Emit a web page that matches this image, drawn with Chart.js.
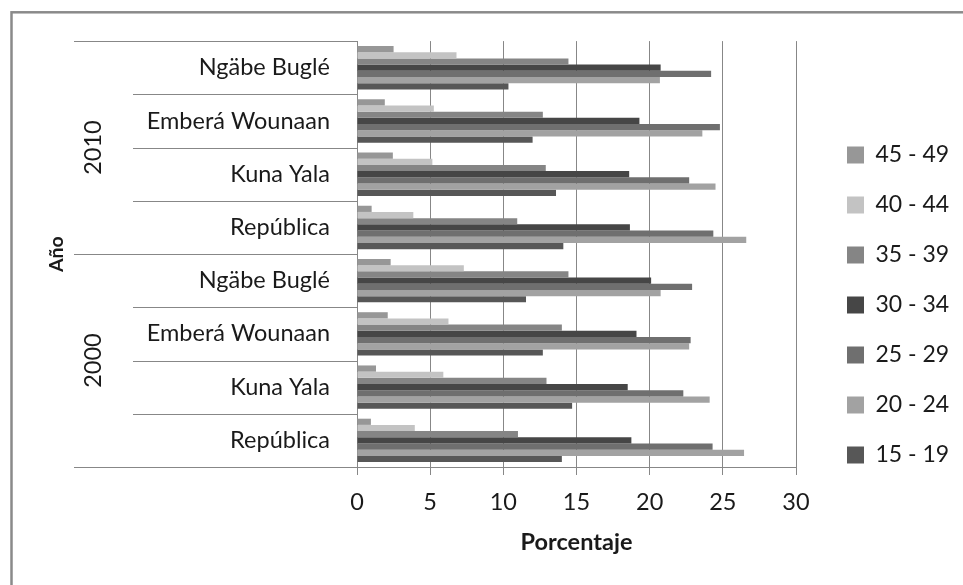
<!DOCTYPE html>
<html>
<head>
<meta charset="utf-8">
<script src="https://cdn.jsdelivr.net/npm/chart.js@4/dist/chart.umd.min.js"></script>
<style>
  html, body { margin: 0; padding: 0; background: #fff; }
</style>
</head>
<body>
<canvas id="grafico" width="963" height="585"></canvas>
<script>
// Datos (orden de Excel: de abajo hacia arriba)
const years = ["2000", "2010"];
const regions = ["República", "Kuna Yala", "Emberá Wounaan", "Ngäbe Buglé"];
const ageGroups = ["15 - 19", "20 - 24", "25 - 29", "30 - 34", "35 - 39", "40 - 44", "45 - 49"];

// valores: 2000 (Rep, Kuna, Emberá, Ngäbe), 2010 (Rep, Kuna, Emberá, Ngäbe)
const v15_19 = [14.0, 14.7, 12.7, 11.55, 14.1, 13.6, 12.0, 10.35];
const v20_24 = [26.45, 24.1, 22.7, 20.75, 26.6, 24.5, 23.6, 20.7];
const v25_29 = [24.3, 22.3, 22.8, 22.9, 24.35, 22.7, 24.8, 24.2];
const v30_34 = [18.75, 18.5, 19.1, 20.1, 18.65, 18.6, 19.3, 20.75];
const v35_39 = [11.0, 12.95, 14.0, 14.45, 10.95, 12.9, 12.7, 14.45];
const v40_44 = [3.95, 5.9, 6.25, 7.3, 3.85, 5.15, 5.25, 6.8];
const v45_49 = [0.95, 1.3, 2.1, 2.3, 1.0, 2.45, 1.9, 2.5];

const xTicks = [0, 5, 10, 15, 20, 25, 30];

const seriesValues = [v15_19, v20_24, v25_29, v30_34, v35_39, v40_44, v45_49];
const colores = ["#575757", "#a2a2a2", "#6f6f6f", "#464646", "#858585", "#c3c3c3", "#979797"];

const fuente = "Lato, 'Open Sans', sans-serif";
const texto = "#1a1a1a";
const gris = "#878787";

// categorías de arriba hacia abajo
const labels = [];
years.forEach(y => regions.forEach(r => labels.push(r)));
labels.reverse();

// 45 - 49 primero (arriba en cada grupo y en la leyenda)
const datasets = ageGroups.map((g, i) => ({
  label: g,
  data: seriesValues[i].slice().reverse(),
  backgroundColor: colores[i],
  borderWidth: 0,
  yAxisID: "y",
})).reverse();

// Líneas del eje de categorías, años y marco
const ejeMultinivel = {
  id: "ejeMultinivel",
  afterDraw(chart) {
    const ctx = chart.ctx;
    const y = chart.scales.y;
    const n = labels.length;
    const paso = y.getPixelForValue(1) - y.getPixelForValue(0);
    const bordes = [];
    for (let k = 0; k <= n; k++) bordes.push(y.getPixelForValue(k) - paso / 2);

    ctx.save();
    ctx.strokeStyle = gris;
    ctx.lineWidth = 1;
    const porAnio = regions.length;
    bordes.forEach((py, k) => {
      const xIni = (k % porAnio === 0) ? 74 : 133;
      const yy = Math.round(py) + 0.5;
      ctx.beginPath();
      ctx.moveTo(xIni, yy);
      ctx.lineTo(y.right, yy);
      ctx.stroke();
    });

    // etiquetas de año (giradas)
    ctx.fillStyle = texto;
    ctx.font = "23.5px " + fuente;
    ctx.textAlign = "center";
    ctx.textBaseline = "middle";
    const aniosArriba = years.slice().reverse();
    aniosArriba.forEach((anio, j) => {
      const yc = (bordes[j * porAnio] + bordes[(j + 1) * porAnio]) / 2;
      ctx.save();
      ctx.translate(93, yc);
      ctx.rotate(-Math.PI / 2);
      ctx.fillText(anio, 0, 0);
      ctx.restore();
    });

    // marco del gráfico
    ctx.strokeStyle = "#8a8a8a";
    ctx.lineWidth = 2.5;
    ctx.strokeRect(11.5, 12.3, 980, 600);
    ctx.restore();
  },
};

new Chart(document.getElementById("grafico"), {
  type: "bar",
  data: { labels: labels, datasets: datasets },
  options: {
    responsive: false,
    animation: false,
    indexAxis: "y",
    datasets: { bar: { categoryPercentage: 0.815, barPercentage: 1.0 } },
    layout: { padding: { left: 0, top: 41, right: 13, bottom: 16 } },
    scales: {
      x: {
        type: "linear",
        min: 0,
        max: 30,
        afterBuildTicks: s => { s.ticks = xTicks.map(v => ({ value: v })); },
        afterFit: s => { s.height = 102; },
        grid: { color: gris, lineWidth: 1, drawTicks: true, tickLength: 8, tickColor: gris },
        border: { display: true, color: gris, width: 1 },
        ticks: { color: texto, font: { family: fuente, size: 23.5 }, padding: 13 },
        title: {
          display: true,
          text: "Porcentaje",
          color: texto,
          font: { family: fuente, size: 23.5, weight: "bold" },
          padding: { top: 0, bottom: 12 },
        },
      },
      y: {
        type: "category",
        position: "left",
        afterFit: s => { s.width = 357; },
        grid: { display: false, drawTicks: false },
        border: { display: true, color: gris, width: 1 },
        ticks: { color: texto, font: { family: fuente, size: 23.5 }, padding: 27, autoSkip: false },
        title: {
          display: true,
          text: "Año",
          color: texto,
          font: { family: fuente, size: 19.5, weight: "bold" },
          padding: { top: 45, bottom: 0 },
        },
      },
      yr: {
        type: "linear",
        axis: "y",
        position: "right",
        display: true,
        afterFit: s => { s.width = 24; },
        grid: { display: false },
        border: { display: false },
        ticks: { display: false },
      },
    },
    plugins: {
      legend: {
        display: true,
        position: "right",
        maxWidth: 130,
        labels: {
          boxWidth: 17,
          boxHeight: 17,
          padding: 27,
          color: texto,
          font: { family: fuente, size: 23 },
        },
      },
      title: { display: false },
      tooltip: { enabled: false },
    },
  },
  plugins: [ejeMultinivel],
});
</script>
</body>
</html>
